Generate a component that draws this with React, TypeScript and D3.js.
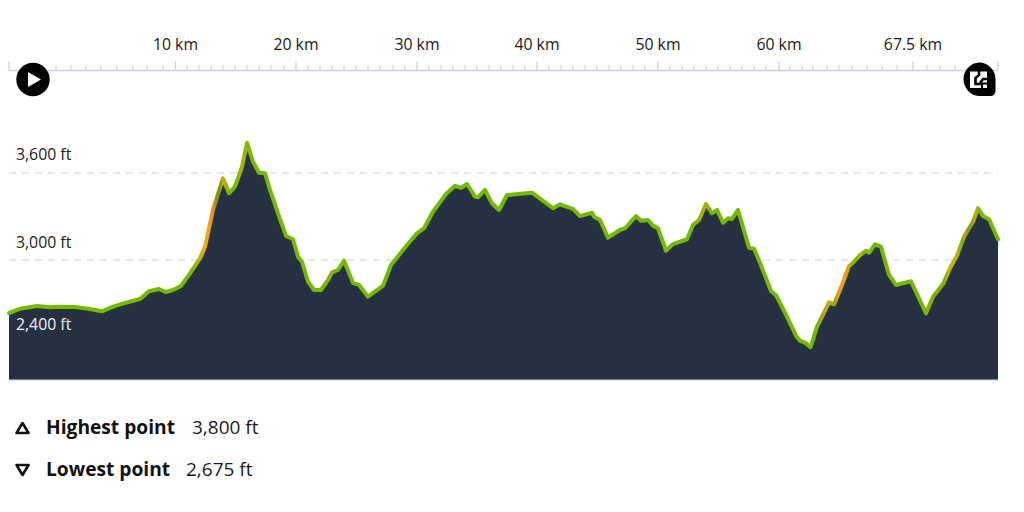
import React from "react";
import * as d3 from "d3";

const routePositions = [0,11,28,41,51,66,79,93,104,113,131,140,150,157,164,172,181,191,196,204,214,220,226,233,238,244,250,256,261,269,277,284,289,293,299,305,312,319,323,329,335,344,350,359,374,382,398,408,415,424,437,446,452,458,466,469,476,483,490,498,523,544,551,564,571,583,585,591,599,611,616,627,632,639,644,649,657,664,678,684,690,697,703,708,714,719,723,729,740,745,751,762,767,776,787,791,796,801.5,808,813,820,825,833,840,844,851,857,860,866,872,880,887,902,910,917,924,934,941,948,955,964,969,974,980,989];
const elevationsFt = [2634,2664,2683,2674,2678,2676,2664,2646,2678,2697,2731,2784,2800,2779,2793,2821,2908,3012,3092,3345,3563,3460,3506,3643,3809,3678,3602,3598,3483,3322,3166,3143,3023,2988,2850,2793,2793,2862,2915,2931,2995,2843,2828,2747,2823,2966,3103,3184,3219,3333,3455,3512,3497,3524,3437,3432,3483,3391,3345,3448,3464,3357,3384,3352,3303,3326,3299,3276,3154,3207,3219,3303,3271,3276,3237,3219,3064,3110,3143,3241,3276,3386,3322,3345,3257,3288,3283,3345,3085,3078,2981,2786,2757,2637,2478,2443,2430,2398,2540,2609,2708,2694,2828,2959,2981,3034,3064,3050,3108,3092,2897,2828,2853,2736,2632,2747,2834,2943,3030,3161,3264,3357,3303,3281,3143];

const elevationTicks = [3600, 3000, 2400];
const elevationTickLabels = ["3,600 ft", "3,000 ft", "2,400 ft"];
const gridElevations = [3600, 3000];

const majorTickPositions = [166.5, 287, 408, 528, 649, 770, 904];
const majorTickLabels = ["10 km", "20 km", "30 km", "40 km", "50 km", "60 km", "67.5 km"];
const endTickPositions = [0, 989];
const earlyMinorTicks = [47, 62, 77, 92, 108, 124, 138, 154];
const midMinorTicks = [178, 190, 202, 214, 226, 238, 250, 262, 275, 299, 311, 323, 335, 347, 359, 371, 384, 396, 420, 432, 444, 456, 468, 480, 492, 504, 516, 540, 552, 564, 576, 588, 600, 612, 624, 636, 661, 673, 685, 697, 709, 721, 733, 745, 757];
const lateMinorTicks = [781, 793, 804, 818, 830, 843, 858, 873, 888, 918, 931, 946];

const gradeStops = [0,181,190,196,204,208,211,214,219,226,233,238,244,319,322,326,684,690,697,702,808,813,820,825,830,836,842,848,851,856,917,925,935,938,948,953,955,961,966,972,989];
const gradeColours = ["g","g","#b0b400","#f0b010","#f09010","#7a9a10","#7a9a10","#c8b008","g","g","#a8b400","#90b800","g","g","#a0a810","g","g","#a0b000","#a8b000","g","g","#b0a810","#c0b000","#90b000","#e8a010","#f0a010","#a8b000","g","#b0b400","g","g","#9aa800","g","#c0b000","#c0b000","g","#c0a800","#7a9a10","#c0b000","g","g"];
const GREEN = "#74ba00";

const legendRows = [
  { name: "Highest point", value: "3,800 ft", valueX: 192, y: 434, up: true },
  { name: "Lowest point", value: "2,675 ft", valueX: 186, y: 476, up: false },
];

const FONT = "'Open Sans', 'Noto Sans', sans-serif";
const INK = "#1a1a1a";
const AREA = "#253041";
const RULE = "#cdd0dc";
const LABEL_LIFT = [13.5, 12.5, 17.5];

export default function App() {
  const x = d3.scaleLinear().domain([0, 989]).range([9, 998]);
  const y = d3.scaleLinear().domain([3000, 3600]).range([260, 173]);
  const pts = routePositions.map((p, i) => [p, elevationsFt[i]] as [number, number]);
  const baseY = 380;
  const area = d3.area<[number, number]>().x((d) => x(d[0])).y0(baseY).y1((d) => y(d[1]))(pts) as string;
  const line = d3.line<[number, number]>().x((d) => x(d[0])).y((d) => y(d[1]))(pts) as string;
  const minor = [...earlyMinorTicks, ...midMinorTicks, ...lateMinorTicks];

  return (
    <svg width={1024} height={512} style={{ position: "absolute", left: 0, top: 0, background: "#fff" }} fontFamily={FONT}>
      <defs>
        <linearGradient id="grade" gradientUnits="userSpaceOnUse" x1={x(0)} x2={x(989)} y1={0} y2={0}>
          {gradeStops.map((s, i) => (
            <stop key={i} offset={s / 989} stopColor={gradeColours[i] === "g" ? GREEN : gradeColours[i]} />
          ))}
        </linearGradient>
      </defs>

      {/* distance axis */}
      <line x1={x(0)} x2={x(989)} y1={70.5} y2={70.5} stroke={RULE} strokeWidth={1.3} />
      {minor.map((p) => (
        <line key={p} x1={x(p)} x2={x(p)} y1={65} y2={70} stroke={RULE} strokeWidth={1.1} />
      ))}
      {[...majorTickPositions, ...endTickPositions].map((p) => (
        <line key={p} x1={x(p)} x2={x(p)} y1={61.5} y2={70} stroke={RULE} strokeWidth={1.2} />
      ))}
      {majorTickPositions.map((p, i) => (
        <text key={p} x={x(p)} y={49.5} textAnchor="middle" fontSize={15.8} fill={INK}>
          {majorTickLabels[i]}
        </text>
      ))}

      {/* grid */}
      {gridElevations.map((e) => (
        <line key={e} x1={x(0)} x2={x(989)} y1={y(e)} y2={y(e)} stroke={RULE} strokeWidth={1.2} strokeDasharray="7 6" />
      ))}

      {/* profile */}
      <path d={area} fill={AREA} />
      <line x1={x(0)} x2={x(989)} y1={baseY} y2={baseY} stroke={RULE} strokeWidth={1} />
      <path d={line} fill="none" stroke="url(#grade)" strokeWidth={4} strokeLinejoin="round" strokeLinecap="round" />

      {/* elevation labels */}
      {elevationTicks.map((e, i) => (
        <text key={e} x={16} y={y(e) - LABEL_LIFT[i]} fontSize={15.8} fill={e === 2400 ? "#f2f3f5" : INK}>
          {elevationTickLabels[i]}
        </text>
      ))}

      {/* play button */}
      <circle cx={33} cy={79.5} r={16.7} fill="#000" />
      <path d="M28 72 L41 79.5 L28 87 Z" fill="#fff" />

      {/* route button */}
      <path d="M979 62.5 A16.8 16.8 0 0 0 979 96 L990 96 A5 5 0 0 0 995.5 91 L995.5 79 A16.8 16.8 0 0 0 979 62.5 Z" fill="#000" />
      <rect x={970} y={71.5} width={17} height={16.5} fill="#fff" />
      <path d="M979 71 V75 L975.5 78 V84 H979.5 L983 79 H987.5" fill="none" stroke="#000" strokeWidth={2.6} />
      <path d="M982 88 V83.5 H987" fill="none" stroke="#000" strokeWidth={2.2} />

      {/* legend */}
      {legendRows.map((r) => (
        <g key={r.name}>
          <path
            d={r.up ? `M22.5 ${r.y - 11} L28.5 ${r.y - 1} L16.5 ${r.y - 1} Z` : `M16.5 ${r.y - 11} L28.5 ${r.y - 11} L22.5 ${r.y - 1} Z`}
            fill="none"
            stroke="#111"
            strokeWidth={2.6}
            strokeLinejoin="round"
          />
          <text x={46} y={r.y} fontSize={19.2} fontWeight={700} fill="#111">
            {r.name}
          </text>
          <text x={r.valueX} y={r.y} fontSize={19} fill={INK}>
            {r.value}
          </text>
        </g>
      ))}
    </svg>
  );
}
